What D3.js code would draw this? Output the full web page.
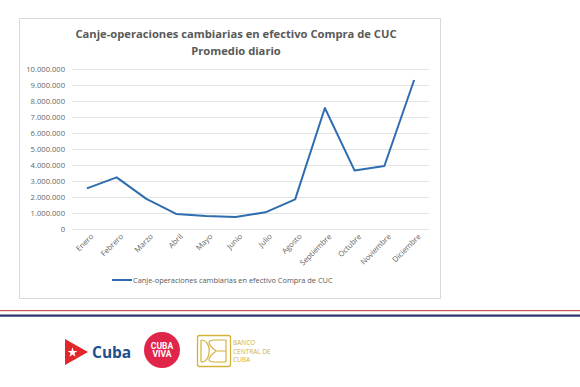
<!DOCTYPE html>
<html>
  <head>
    <meta charset="utf-8">
    <style>
      body { margin: 0; background: #fff; }
      svg { display: block; font-family: "Open Sans", sans-serif; }
      .grid line { stroke: #e3e3e3; stroke-width: 1; }
      .tick text { fill: #666; }
    </style>
    <script src="https://d3js.org/d3.v7.min.js"></script>
  </head>
  <body>
    <svg id="chart" width="580" height="387"></svg>

    <script>
      var months = ["Enero", "Febrero", "Marzo", "Abril", "Mayo", "Junio", "Julio",
                    "Agosto", "Septiembre", "Octubre", "Noviembre", "Diciembre"];
      var values = [2540000, 3230000, 1880000, 940000, 810000, 750000, 1040000,
                    1850000, 7560000, 3650000, 3940000, 9310000];
      var yTicks = [0, 1000000, 2000000, 3000000, 4000000, 5000000, 6000000,
                    7000000, 8000000, 9000000, 10000000];
      var titleLines = ["Canje-operaciones cambiarias en efectivo Compra de CUC", "Promedio diario"];
      var seriesName = "Canje-operaciones cambiarias en efectivo Compra de CUC";

      var svg = d3.select("#chart");
      var lineColor = "#2e6db0";
      var textColor = "#595959";

      // chart frame
      svg.append("rect")
        .attr("x", 19.5).attr("y", 18.5)
        .attr("width", 421).attr("height", 280)
        .attr("fill", "#fff")
        .attr("stroke", "#d9d9d9");

      // title
      svg.selectAll(".title")
        .data(titleLines)
        .enter().append("text")
        .attr("class", "title")
        .attr("x", 236)
        .attr("y", function(d, i) { return 38 + i * 17; })
        .attr("text-anchor", "middle")
        .attr("font-size", 11.2)
        .attr("font-weight", "bold")
        .attr("fill", textColor)
        .text(function(d) { return d; });

      var x = d3.scaleBand().domain(months).range([72, 429]);
      var y = d3.scaleLinear().domain([0, 10000000]).range([229, 69]);

      var fmt = function(v) { return d3.format(",")(v).replace(/,/g, "."); };

      // gridlines
      svg.append("g")
        .attr("class", "grid")
        .selectAll("line")
        .data(yTicks)
        .enter().append("line")
        .attr("x1", 72).attr("x2", 429)
        .attr("y1", function(d) { return Math.round(y(d)) + 0.5; })
        .attr("y2", function(d) { return Math.round(y(d)) + 0.5; });

      // y axis
      var yAxis = svg.append("g")
        .attr("transform", "translate(65,0)")
        .call(d3.axisLeft(y).tickValues(yTicks).tickFormat(fmt).tickSize(0).tickPadding(0));
      yAxis.select(".domain").remove();
      yAxis.selectAll("text").attr("font-size", 7.6).attr("font-family", "Open Sans");

      // x axis
      var xAxis = svg.append("g")
        .attr("transform", "translate(0,229)")
        .call(d3.axisBottom(x).tickSize(0));
      xAxis.select(".domain").remove();
      xAxis.selectAll("text")
        .attr("font-size", 7.6)
        .attr("font-family", "Open Sans")
        .attr("text-anchor", "end")
        .attr("dy", 0)
        .attr("transform", "translate(5,6) rotate(-45)");

      // line
      var line = d3.line()
        .x(function(d, i) { return x(months[i]) + x.bandwidth() / 2; })
        .y(function(d) { return y(d); });

      svg.append("path")
        .datum(values)
        .attr("d", line)
        .attr("fill", "none")
        .attr("stroke", lineColor)
        .attr("stroke-width", 2)
        .attr("stroke-linejoin", "round");

      // legend
      svg.append("line")
        .attr("x1", 112).attr("x2", 132)
        .attr("y1", 280).attr("y2", 280)
        .attr("stroke", lineColor).attr("stroke-width", 2);
      svg.append("text")
        .attr("x", 133).attr("y", 283)
        .attr("font-size", 7.4)
        .attr("fill", textColor)
        .text(seriesName);

      // footer stripes
      svg.append("rect").attr("x", 0).attr("y", 310).attr("width", 580).attr("height", 1.2).attr("fill", "#c9514f");
      svg.append("rect").attr("x", 0).attr("y", 314.5).attr("width", 580).attr("height", 2.2).attr("fill", "#2b3468");

      // logo: Cuba
      svg.append("path")
        .attr("d", "M65,339 L88,352 L65,365 Z")
        .attr("fill", "#e3262b");
      var star = d3.symbol().type(d3.symbolStar).size(30);
      svg.append("path")
        .attr("d", star())
        .attr("transform", "translate(72.5,352.5)")
        .attr("fill", "#fff");
      svg.append("text")
        .attr("x", 92).attr("y", 358)
        .attr("font-size", 15.5)
        .attr("font-weight", "bold")
        .attr("fill", "#1d4f8f")
        .attr("font-family", "Open Sans")
        .text("Cuba");

      // logo: Cuba Viva
      svg.append("circle")
        .attr("cx", 162).attr("cy", 350).attr("r", 18)
        .attr("fill", "#e0254a");
      svg.selectAll(".viva")
        .data(["CUBA", "VIVA"])
        .enter().append("text")
        .attr("x", 162)
        .attr("y", function(d, i) { return 348.5 + i * 8.5; })
        .attr("text-anchor", "middle")
        .attr("font-size", 8.5)
        .attr("font-weight", "bold")
        .attr("fill", "#fff")
        .attr("font-family", "Roboto")
        .text(function(d) { return d; });

      // logo: Banco Central de Cuba
      var gold = "#d4b23a";
      svg.append("rect")
        .attr("x", 197.5).attr("y", 335.5).attr("width", 33).attr("height", 31)
        .attr("rx", 2)
        .attr("fill", "none").attr("stroke", gold).attr("stroke-width", 1.3);
      svg.append("path")
        .attr("d", "M201,340 L201,362 M201,340 C212,340 212,362 201,362 M216,351 C207,344 207,340 214,340 M216,351 C207,358 207,362 214,362 M214,340 L226,340 M214,362 L226,362 M216,351 L226,351 M226,340 L226,362")
        .attr("fill", "none").attr("stroke", gold).attr("stroke-width", 1.2);
      svg.selectAll(".banco")
        .data(["BANCO", "CENTRAL DE", "CUBA"])
        .enter().append("text")
        .attr("x", 233)
        .attr("y", function(d, i) { return 345 + i * 8.5; })
        .attr("font-size", 6.5)
        .attr("fill", gold)
        .text(function(d) { return d; });
    </script>
  </body>
</html>
